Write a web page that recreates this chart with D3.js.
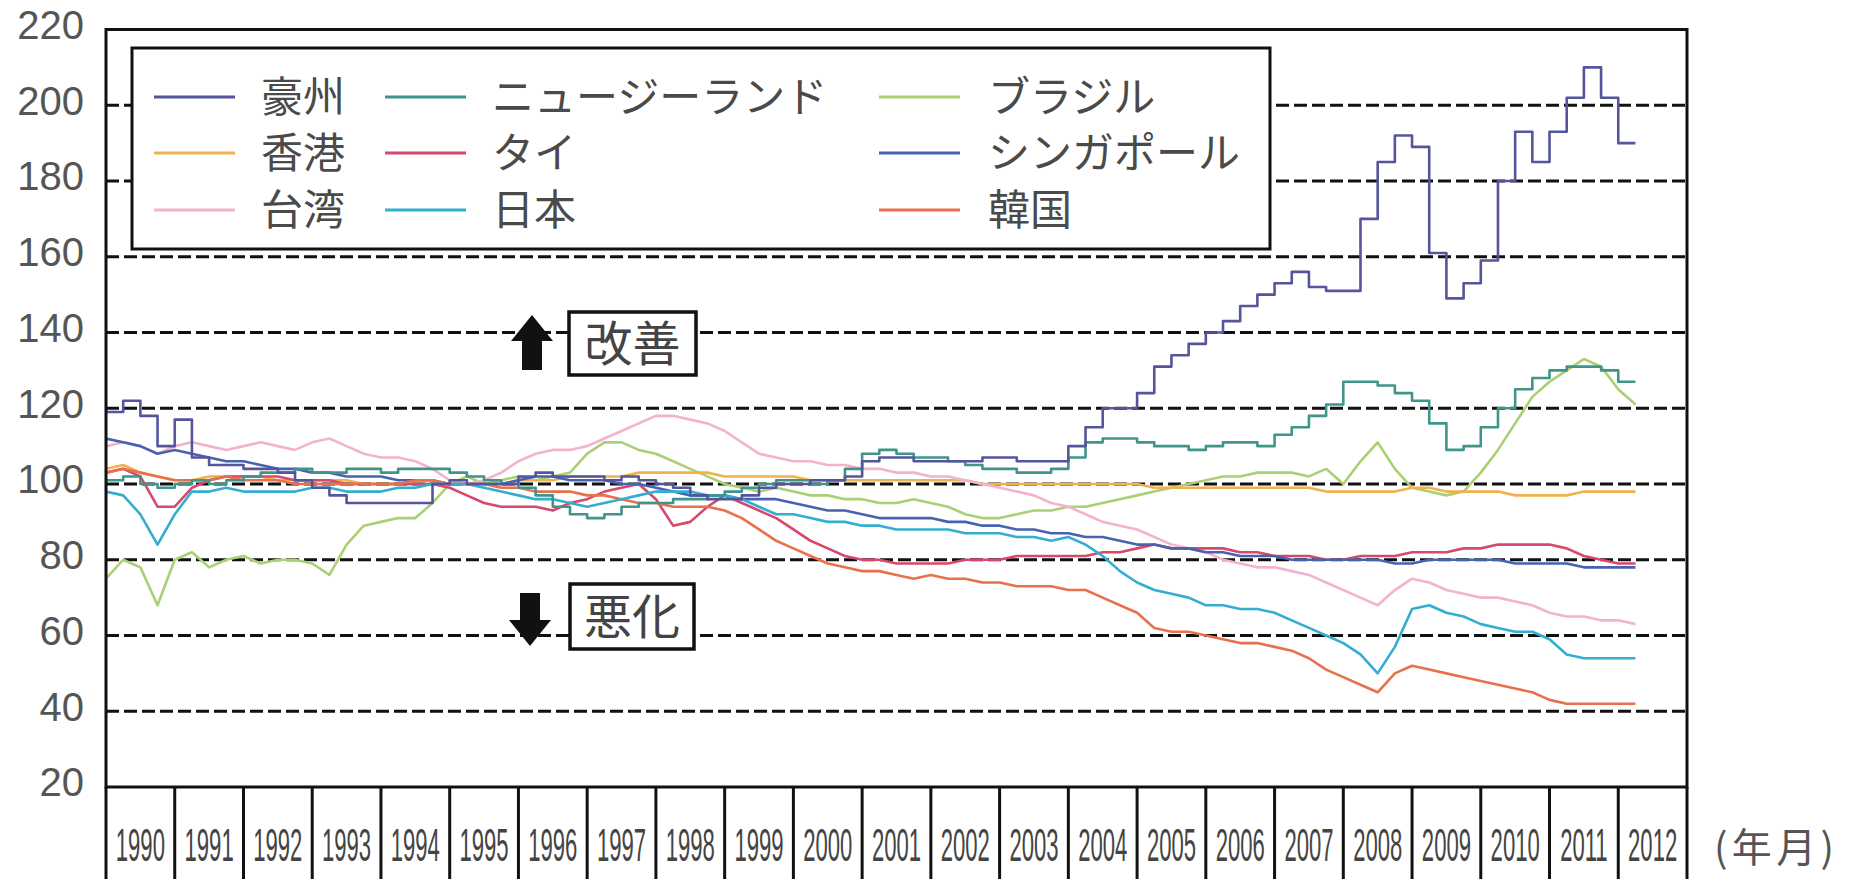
<!DOCTYPE html>
<html><head><meta charset="utf-8">
<script src="https://cdn.jsdelivr.net/npm/d3@7/dist/d3.min.js"></script>
<style>html,body{margin:0;padding:0;background:#fff;}svg{display:block;}</style>
</head><body>
<svg id="chart" width="1850" height="879"></svg>
<script>
// ---------- data (quarterly, from 1990 Q1) ----------
const startYear = 1990;
const stepYears = 0.25;
const yearLabels = d3.range(1990, 2013).map(String);
const yTickValues = [20, 40, 60, 80, 100, 120, 140, 160, 180, 200, 220];
const gridValues = [40, 60, 80, 100, 120, 140, 160, 180, 200];
const xUnitLabel = "(年月)";
const upLabel = "改善";
const downLabel = "悪化";

const seriesNames  = ["豪州", "香港", "台湾", "ニュージーランド", "タイ", "日本", "ブラジル", "シンガポール", "韓国"];
const seriesColors = ["#55559c", "#f0b24e", "#f3b3cd", "#3f958a", "#d6496c", "#33aed0", "#a9d072", "#4862b2", "#e8714c"];
const stepped      = [true, false, false, true, false, false, false, false, false];

const australia = [119,122,118,110, 117,107,105,105, 104,104,103,101, 99,97,95,95, 95,95,95,100,
  101,100,100,100, 102,103,102,102, 102,101,102,101, 100,99,97,96, 96,97,99,100,
  100,101,101,102, 106,107,107,106, 106,106,106,107, 107,106,106,106, 110,115,120,120,
  124,131,134,137, 140,143,147,150, 153,156,152,151, 151,170,185,192, 189,161,149,153,
  159,180,193,185, 193,202,210,202, 190];
const hongKong = [104,105,103,102, 101,101,102,102, 102,102,101,101, 101,101,101,100, 100,100,100,100,
  100,100,100,100, 101,101,101,102, 102,102,102,103, 103,103,103,103, 102,102,102,102,
  102,101,101,101, 101,101,101,101, 101,101,101,100, 100,100,100,100, 100,100,100,100,
  100,99,99,99, 99,99,99,99, 99,99,99,98, 98,98,98,98, 99,99,98,98,
  98,98,97,97, 97,97,98,98, 98,98];
const taiwan = [110,111,110,108, 110,111,110,109, 110,111,110,109, 111,112,110,108, 107,107,106,104,
  101,100,101,103, 106,108,109,109, 110,112,114,116, 118,118,117,116, 114,111,108,107,
  106,106,105,105, 104,104,103,103, 102,102,101,100, 99,98,97,95, 94,92,90,89,
  88,86,84,83, 82,80,79,78, 78,77,76,74, 72,70,68,72, 75,74,72,71,
  70,70,69,68, 66,65,65,64, 64,63];
const newZealand = [101,102,100,99, 100,101,100,101, 102,103,103,104, 103,103,104,104, 103,104,104,104,
  103,102,101,100, 99,97,94,92, 91,92,94,95, 95,96,96,97, 98,99,100,101,
  101,100,101,104, 108,109,108,107, 107,106,105,104, 104,103,103,104, 107,111,112,112,
  111,110,110,109, 110,111,111,110, 113,115,118,121, 127,127,126,124, 122,116,109,110,
  115,120,125,128, 130,131,131,130, 127];
const thailand = [103,104,102,94, 94,99,101,102, 102,102,102,101, 101,101,100,100, 100,100,100,100,
  99,97,95,94, 94,94,93,95, 96,98,99,100, 96,89,90,94, 97,95,93,91,
  88,85,83,81, 80,80,79,79, 79,79,80,80, 80,81,81,81, 81,81,82,82,
  83,84,83,83, 83,83,82,82, 81,81,81,80, 80,81,81,81, 82,82,82,83,
  83,84,84,84, 84,83,81,80, 79,79];
const japan = [98,97,92,84, 92,98,98,99, 98,98,98,98, 99,99,98,98, 98,99,99,100,
  100,100,99,98, 97,96,96,95, 94,95,96,97, 98,98,98,97, 97,96,94,92,
  92,91,90,90, 89,89,88,88, 88,88,87,87, 87,86,86,85, 86,84,81,77,
  74,72,71,70, 68,68,67,67, 66,64,62,60, 58,55,50,57, 67,68,66,65,
  63,62,61,61, 59,55,54,54, 54,54];
const brazil = [75,80,78,68, 80,82,78,80, 81,79,80,80, 79,76,84,89, 90,91,91,95,
  100,102,100,101, 102,101,102,103, 108,111,111,109, 108,106,104,102, 100,99,98,99,
  98,97,97,96, 96,95,95,96, 95,94,92,91, 91,92,93,93, 94,94,95,96,
  97,98,99,100, 101,102,102,103, 103,103,102,104, 100,106,111,104, 99,98,97,98,
  103,109,116,123, 127,130,133,131, 125,121];
const singapore = [112,111,110,108, 109,108,107,106, 106,105,104,104, 103,103,102,102, 102,101,101,101,
  100,100,100,100, 101,102,102,101, 101,101,100,100, 99,98,97,97, 97,96,96,96,
  95,94,93,93, 92,91,91,91, 91,90,90,89, 89,88,88,87, 87,86,86,85,
  84,84,83,83, 82,82,81,81, 81,80,80,80, 80,80,80,79, 79,80,80,80,
  80,80,79,79, 79,79,78,78, 78,78];
const korea = [103,104,103,102, 101,101,101,102, 101,101,101,100, 100,100,100,100, 100,100,101,101,
  100,100,100,99, 99,98,98,98, 97,97,96,95, 95,94,94,94, 93,91,88,85,
  83,81,79,78, 77,77,76,75, 76,75,75,74, 74,73,73,73, 72,72,70,68,
  66,62,61,61, 60,59,58,58, 57,56,54,51, 49,47,45,50, 52,51,50,49,
  48,47,46,45, 43,42,42,42, 42,42];

const seriesValues = [australia, hongKong, taiwan, newZealand, thailand, japan, brazil, singapore, korea];
const drawOrder = [6, 1, 2, 4, 7, 8, 5, 3, 0];

// ---------- layout ----------
const W = 1850, H = 879;
const plot = {left: 106, right: 1687, top: 29.5, bottom: 787};
const svg = d3.select("#chart");
const x = d3.scaleLinear().domain([1990, 2013]).range([plot.left, plot.right]);
const y = d3.scaleLinear().domain([20, 220]).range([plot.bottom, plot.top]);

svg.append("rect").attr("width", W).attr("height", H).attr("fill", "#fff");

// grid
svg.append("g").selectAll("line").data(gridValues).join("line")
  .attr("x1", plot.left).attr("x2", plot.right)
  .attr("y1", d => y(d)).attr("y2", d => y(d))
  .attr("stroke", "#111").attr("stroke-width", 2.8).attr("stroke-dasharray", "13,5");

// y axis labels
const yAxis = svg.append("g").attr("transform", `translate(${plot.left},0)`)
  .call(d3.axisLeft(y).tickValues(yTickValues).tickSize(0).tickPadding(22).tickFormat(d3.format("d")));
yAxis.select(".domain").remove();
yAxis.selectAll("text").attr("font-family", "Liberation Sans, Arial, sans-serif")
  .attr("font-size", 40).attr("fill", "#555").attr("dy", "0.32em")
  .attr("transform", "translate(0,-4)");

// series lines
const data = seriesValues.map(vals => vals.map((v, i) => ({t: startYear + i * stepYears, v})));
const lineLin = d3.line().x(d => x(d.t)).y(d => y(d.v));
const lineStep = d3.line().x(d => x(d.t)).y(d => y(d.v)).curve(d3.curveStepAfter);
svg.append("clipPath").attr("id", "clip").append("rect")
  .attr("x", plot.left).attr("y", plot.top).attr("width", plot.right - plot.left).attr("height", plot.bottom - plot.top);
const gLines = svg.append("g").attr("clip-path", "url(#clip)");
drawOrder.forEach(k => {
  let pts = data[k];
  if (stepped[k]) {
    const last = pts[pts.length - 1];
    pts = pts.concat([{t: last.t + stepYears, v: last.v}]);
  }
  gLines.append("path").attr("d", (stepped[k] ? lineStep : lineLin)(pts))
    .attr("fill", "none").attr("stroke", seriesColors[k]).attr("stroke-width", 2.6)
    .attr("stroke-linejoin", "round");
});

// plot frame
svg.append("rect").attr("x", plot.left).attr("y", plot.top)
  .attr("width", plot.right - plot.left).attr("height", plot.bottom - plot.top)
  .attr("fill", "none").attr("stroke", "#111").attr("stroke-width", 3);

// year table below
const years = yearLabels.map(Number);
svg.append("g").selectAll("line").data(years.concat([2013])).join("line")
  .attr("x1", d => x(d)).attr("x2", d => x(d)).attr("y1", plot.bottom).attr("y2", H)
  .attr("stroke", "#111").attr("stroke-width", 3);
svg.append("g").selectAll("text").data(yearLabels).join("text")
  .attr("transform", d => `translate(${x(+d + 0.5)},861) scale(0.48,1)`)
  .attr("text-anchor", "middle").attr("font-family", "Liberation Sans, Arial, sans-serif")
  .attr("font-size", 46).attr("fill", "#444")
  .text(d => d);
svg.append("text").attr("x", 1714).attr("y", 862)
  .attr("font-family", "Noto Sans CJK JP, sans-serif").attr("font-size", 40).attr("fill", "#555")
  .attr("textLength", 120).attr("lengthAdjust", "spacing")
  .text(xUnitLabel);

// legend
const lg = svg.append("g");
lg.append("rect").attr("x", 132).attr("y", 48).attr("width", 1138).attr("height", 201)
  .attr("fill", "#fff").attr("stroke", "#111").attr("stroke-width", 3);
const colLineX = [154, 385, 879], colTextX = [261, 492, 988], rowY = [97, 153, 210];
seriesNames.forEach((name, i) => {
  const c = Math.floor(i / 3), r = i % 3;
  lg.append("line").attr("x1", colLineX[c]).attr("x2", colLineX[c] + 81)
    .attr("y1", rowY[r]).attr("y2", rowY[r]).attr("stroke", seriesColors[i]).attr("stroke-width", 3);
  lg.append("text").attr("x", colTextX[c]).attr("y", rowY[r]).attr("dy", "0.36em")
    .attr("font-family", "Noto Sans CJK JP, sans-serif").attr("font-size", 42).attr("fill", "#4a4a4a")
    .text(name);
});

// annotations
function arrow(cx, top, h, up) {
  const hw = 21, sw = 10, hh = 26;
  let p;
  if (up) p = [[cx, top], [cx + hw, top + hh], [cx + sw, top + hh], [cx + sw, top + h], [cx - sw, top + h], [cx - sw, top + hh], [cx - hw, top + hh]];
  else p = [[cx - sw, top], [cx + sw, top], [cx + sw, top + h - hh], [cx + hw, top + h - hh], [cx, top + h], [cx - hw, top + h - hh], [cx - sw, top + h - hh]];
  svg.append("path").attr("d", "M" + p.map(q => q.join(",")).join("L") + "Z").attr("fill", "#111");
}
function labelBox(x0, y0, w, h, txt) {
  svg.append("rect").attr("x", x0).attr("y", y0).attr("width", w).attr("height", h)
    .attr("fill", "#fff").attr("stroke", "#111").attr("stroke-width", 3.5);
  svg.append("text").attr("x", x0 + w / 2).attr("y", y0 + h / 2).attr("dy", "0.36em")
    .attr("text-anchor", "middle").attr("font-family", "Noto Sans CJK JP, sans-serif")
    .attr("font-size", 48).attr("fill", "#444").text(txt);
}
arrow(532, 315, 55, true);
labelBox(569, 312, 127, 63, upLabel);
arrow(530, 593, 53, false);
labelBox(570, 584, 124, 65, downLabel);
</script>
</body></html>
